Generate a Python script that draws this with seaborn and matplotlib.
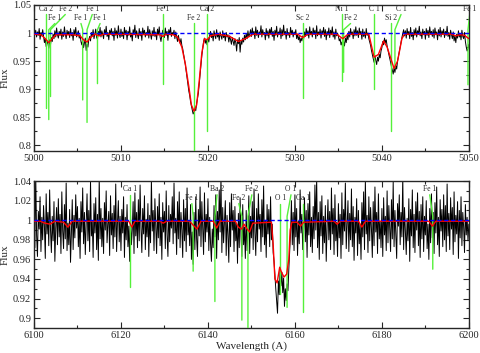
import numpy as np
import matplotlib
matplotlib.use("Agg")
import matplotlib.pyplot as plt
from matplotlib.ticker import MultipleLocator, FormatStrFormatter
import seaborn as sns

# observed spectrum, 5000-5050 A (0.1 A sampling)
top_range = (5000.0, 5050.0)
top_flux = [
    0.991, 0.998, 1.005, 0.993, 1.002, 0.996, 1.008, 0.989, 1.001, 0.995,
    1.006, 0.994, 0.983, 0.990, 0.976, 0.986, 0.981, 0.973, 0.988, 0.979,
    0.992, 0.985, 0.998, 0.990, 1.004, 0.993, 1.009, 0.997, 0.991, 1.003,
    0.996, 1.007, 0.989, 1.002, 0.994, 1.011, 0.998, 0.990, 1.005, 0.997,
    1.003, 0.992, 1.008, 0.995, 1.001, 0.987, 1.006, 0.996, 1.010, 0.993,
    0.999, 1.004, 0.991, 0.997, 0.985, 0.979, 0.988, 0.974, 0.983, 0.991,
    0.969, 0.980, 0.975, 0.988, 0.994, 0.986, 1.001, 0.995, 1.006, 0.990,
    0.998, 1.007, 0.992, 0.989, 1.003, 0.996, 1.010, 0.993, 1.004, 0.998,
    0.990, 1.006, 0.997, 1.012, 0.994, 1.001, 0.988, 1.005, 0.999, 1.008,
    0.995, 1.003, 0.987, 1.009, 0.996, 1.004, 0.991, 1.013, 0.998, 0.992,
    1.007, 0.994, 1.002, 0.990, 1.010, 0.997, 1.005, 0.988, 1.003, 0.996,
    1.011, 0.993, 1.000, 0.986, 1.006, 0.998, 1.014, 0.992, 1.004, 0.997,
    0.990, 1.008, 0.995, 1.003, 0.987, 1.009, 0.999, 1.005, 0.993, 1.001,
    0.996, 1.012, 0.991, 1.006, 0.998, 0.989, 1.004, 0.995, 1.010, 0.994,
    1.002, 0.988, 1.007, 0.997, 1.011, 0.993, 0.985, 0.996, 1.005, 0.999,
    0.992, 1.009, 0.996, 1.003, 0.987, 1.006, 0.998, 1.010, 0.994, 1.001,
    0.997, 1.005, 0.990, 1.002, 0.994, 0.985, 0.996, 0.988, 0.982, 0.990,
    0.978, 0.972, 0.963, 0.955, 0.944, 0.932, 0.921, 0.908, 0.897, 0.889,
    0.878, 0.870, 0.863, 0.856, 0.859, 0.866, 0.862, 0.875, 0.884, 0.893,
    0.910, 0.928, 0.944, 0.960, 0.972, 0.985, 0.991, 0.982, 0.988, 0.979,
    0.990, 0.984, 0.996, 1.003, 0.992, 0.999, 0.986, 1.004, 0.995, 0.990,
    1.006, 0.993, 0.999, 0.987, 1.002, 0.995, 0.989, 1.004, 0.992, 0.998,
    0.986, 1.001, 0.993, 0.997, 0.984, 0.995, 0.988, 0.980, 0.992, 0.985,
    0.978, 0.990, 0.983, 0.968, 0.988, 0.981, 0.992, 0.966, 0.986, 0.980,
    0.991, 0.984, 0.996, 0.988, 0.999, 0.990, 1.004, 0.993, 0.998, 1.006,
    0.994, 1.009, 0.997, 1.003, 0.990, 1.011, 0.996, 1.005, 0.992, 1.002,
    0.998, 1.013, 0.993, 1.006, 0.997, 1.001, 0.988, 1.008, 0.995, 1.004,
    0.991, 1.007, 0.999, 1.010, 0.994, 1.003, 0.987, 1.005, 0.996, 1.012,
    0.993, 1.002, 0.998, 1.009, 0.990, 1.006, 0.995, 1.014, 0.997, 1.003,
    0.989, 1.008, 0.996, 1.001, 0.992, 1.010, 0.998, 1.005, 0.993, 1.002,
    0.997, 1.006, 0.990, 0.998, 0.988, 0.994, 0.983, 0.991, 0.986, 0.995,
    0.989, 1.002, 0.994, 1.008, 0.996, 1.004, 0.991, 1.011, 0.997, 1.003,
    0.993, 1.009, 0.998, 1.005, 0.990, 1.013, 0.995, 1.002, 0.997, 1.007,
    0.991, 1.004, 0.999, 1.010, 0.994, 1.006, 0.988, 1.003, 0.996, 1.009,
    0.992, 1.005, 0.997, 1.011, 0.993, 1.002, 0.989, 1.007, 0.995, 1.000,
    0.994, 0.986, 0.990, 0.979, 0.984, 0.973, 0.985, 0.977, 0.991, 0.983,
    0.996, 0.988, 1.003, 0.993, 1.008, 0.997, 1.002, 0.990, 1.006, 0.995,
    1.011, 0.996, 1.004, 0.992, 1.009, 0.998, 1.003, 0.989, 1.007, 0.994,
    1.002, 0.991, 1.008, 0.996, 1.000, 0.990, 0.984, 0.978, 0.969, 0.962,
    0.955, 0.948, 0.960, 0.951, 0.944, 0.957, 0.950, 0.962, 0.956, 0.968,
    0.974, 0.985, 0.979, 0.991, 0.983, 0.988, 0.977, 0.969, 0.962, 0.955,
    0.948, 0.940, 0.934, 0.927, 0.938, 0.930, 0.942, 0.936, 0.950, 0.958,
    0.967, 0.975, 0.984, 0.992, 0.999, 1.006, 0.995, 1.004, 0.991, 1.008,
    0.997, 1.003, 0.990, 1.010, 0.994, 1.001, 0.988, 1.006, 0.996, 1.009,
    0.993, 1.004, 0.998, 1.012, 0.995, 1.002, 0.990, 1.007, 0.997, 1.003,
    0.989, 1.008, 0.996, 1.005, 0.992, 1.011, 0.998, 1.003, 0.994, 1.006,
    0.991, 1.009, 0.997, 1.002, 0.988, 1.006, 0.995, 1.010, 0.993, 1.004,
    0.998, 1.007, 0.992, 1.003, 0.996, 1.012, 0.994, 1.001, 0.989, 1.005,
    0.997, 0.990, 1.002, 0.986, 0.995, 0.983, 0.998, 0.991, 1.004, 0.993,
    0.999, 0.988, 1.005, 0.994, 0.990, 1.001, 0.985, 0.975, 0.968, 0.972,
    0.980,
]

# synthetic (model) spectrum knots, top panel
top_model_wave = [5000.0, 5000.8, 5001.3, 5001.7, 5002.1, 5002.5, 5004.5, 5005.3,
                  5005.7, 5006.1, 5006.5, 5007.0, 5007.5, 5008.0, 5014.5, 5014.8,
                  5015.2, 5016.0, 5016.5, 5017.0, 5017.4, 5017.8, 5018.1, 5018.4,
                  5018.7, 5019.0, 5019.3, 5019.6, 5019.9, 5020.3, 5021.2, 5022.5,
                  5023.5, 5024.3, 5025.2, 5030.3, 5030.9, 5031.5, 5034.8, 5035.5,
                  5036.1, 5038.5, 5039.1, 5039.6, 5040.2, 5040.6, 5041.4, 5041.8,
                  5042.3, 5042.6, 5048.0, 5048.5, 5049.0, 5049.5, 5050.0]
top_model_flux = [0.998, 0.997, 0.990, 0.983, 0.990, 0.997, 0.997, 0.995,
                  0.988, 0.984, 0.992, 0.998, 0.995, 0.998, 0.997, 0.994,
                  0.998, 0.997, 0.993, 0.975, 0.945, 0.905, 0.872, 0.861,
                  0.872, 0.915, 0.965, 0.990, 0.988, 0.995, 0.998, 0.994,
                  0.985, 0.990, 0.998, 0.998, 0.992, 0.998, 0.998, 0.990,
                  0.998, 0.998, 0.957, 0.962, 0.986, 0.975, 0.937, 0.950,
                  0.990, 0.998, 0.998, 0.995, 0.997, 0.996, 0.990]

# line identifications, top panel
top_line_wave = [5001.4, 5001.7, 5001.9, 5005.6, 5006.1, 5007.3, 5014.8, 5018.4,
                 5019.9, 5030.9, 5035.4, 5035.6, 5039.1, 5041.0, 5041.5, 5049.9]
top_line_depth = [0.867, 0.846, 0.887, 0.881, 0.841, 0.910, 0.910, 0.780,
                  0.825, 0.885, 0.915, 0.930, 0.901, 0.825, 0.938, 0.908]
top_line_label = ["Ca 2", "Fe 1", "Fe 2", "Fe 1", "Fe 1", "Fe 1", "Fe 1", "Fe 2",
                  "Ca 2", "Sc 2", "Ni 1", "Fe 2", "C 1", "Si 2", "C 1", "Fe 1"]

# observed spectrum, 6100-6200 A (0.2 A sampling)
bot_range = (6100.0, 6200.0)
bot_flux = [
    1.018, 0.972, 1.046, 0.985, 0.963, 1.009, 0.991, 1.024, 0.968, 1.003,
    0.980, 1.015, 0.994, 0.961, 1.027, 0.986, 1.008, 0.974, 1.031, 0.990,
    0.967, 1.004, 0.979, 1.019, 0.958, 0.992, 1.013, 0.975, 1.022, 0.983,
    1.006, 0.966, 1.029, 0.989, 0.971, 1.016, 0.981, 1.038, 0.969, 0.997,
    0.975, 1.011, 0.957, 0.986, 1.021, 0.970, 1.005, 0.982, 1.026, 0.992,
    1.014, 0.973, 1.002, 0.961, 1.019, 0.988, 1.033, 0.976, 1.008, 0.965,
    0.995, 1.027, 0.979, 1.010, 0.968, 1.040, 0.984, 0.999, 0.962, 1.017,
    0.987, 1.023, 0.970, 1.006, 0.959, 1.044, 0.981, 1.012, 0.973, 1.002,
    0.966, 1.018, 0.990, 1.030, 0.977, 0.996, 1.009, 0.964, 1.025, 0.985,
    1.007, 0.971, 1.015, 0.983, 1.037, 0.968, 0.998, 1.020, 0.978, 1.004,
    0.969, 1.011, 0.987, 1.024, 0.962, 1.003, 0.980, 1.016, 0.973, 0.994,
    0.958, 1.006, 0.975, 0.990, 1.019, 0.966, 1.028, 0.984, 1.008, 0.972,
    1.021, 0.979, 1.036, 0.992, 0.967, 1.012, 0.986, 1.025, 0.970, 1.001,
    0.983, 1.017, 0.963, 1.005, 0.977, 1.042, 0.989, 1.010, 0.969, 1.022,
    0.995, 0.966, 1.014, 0.982, 1.027, 0.974, 1.003, 0.960, 1.018, 0.988,
    1.009, 0.971, 1.030, 0.985, 0.963, 1.015, 0.978, 1.006, 0.992, 1.024,
    0.976, 1.038, 0.987, 1.002, 0.965, 1.019, 0.981, 1.029, 0.972, 1.008,
    0.990, 0.962, 1.021, 0.979, 1.012, 0.968, 1.033, 0.985, 0.999, 0.974,
    1.016, 0.960, 0.988, 0.955, 1.008, 0.970, 1.024, 0.981, 0.963, 1.011,
    0.984, 1.034, 0.973, 1.019, 0.992, 0.965, 1.028, 0.978, 1.006, 0.988,
    1.022, 0.969, 1.003, 0.976, 0.958, 0.991, 0.972, 1.015, 0.983, 1.026,
    0.961, 1.009, 0.980, 1.031, 0.988, 1.046, 0.967, 1.013, 0.977, 0.998,
    1.020, 0.964, 1.005, 0.985, 0.957, 1.018, 0.973, 1.027, 0.990, 1.010,
    0.968, 1.014, 0.979, 0.996, 0.956, 1.007, 0.972, 1.023, 0.984, 0.963,
    1.016, 0.975, 0.993, 0.961, 1.010, 0.969, 0.987, 1.025, 0.966, 1.004,
    0.982, 1.019, 0.970, 1.032, 0.988, 0.964, 1.012, 0.978, 1.027, 0.991,
    1.006, 0.968, 1.021, 0.983, 1.035, 0.975, 1.000, 0.962, 1.016, 0.986,
    1.011, 0.973, 1.024, 0.980, 0.996, 0.967, 0.958, 0.944, 0.930, 0.918,
    0.905, 0.938, 0.924, 0.952, 0.933, 0.947, 0.926, 0.941, 0.912, 0.930,
    0.918, 0.935, 0.928, 0.950, 0.968, 0.987, 1.020, 0.975, 1.008, 0.969,
    1.026, 0.983, 1.012, 0.964, 0.999, 0.976, 1.031, 0.987, 1.006, 0.970,
    0.991, 1.023, 0.978, 1.010, 0.962, 1.017, 0.985, 1.029, 0.973, 1.003,
    0.967, 1.014, 0.981, 1.036, 0.990, 1.043, 0.972, 1.008, 0.960, 1.019,
    0.984, 1.025, 0.966, 1.004, 0.977, 1.015, 0.958, 0.993, 1.021, 0.980,
    1.009, 0.970, 1.033, 0.986, 1.012, 0.965, 1.026, 0.979, 0.998, 0.963,
    1.017, 0.982, 1.006, 0.961, 1.028, 0.975, 1.011, 0.989, 1.038, 0.971,
    0.995, 1.020, 0.968, 1.007, 0.980, 1.032, 0.973, 1.014, 0.959, 1.003,
    0.987, 1.022, 0.964, 1.010, 0.976, 0.996, 0.960, 1.018, 0.983, 1.029,
    0.970, 1.041, 0.986, 1.005, 0.967, 1.024, 0.979, 1.013, 0.991, 0.962,
    1.019, 0.974, 1.034, 0.988, 1.008, 0.966, 1.027, 0.981, 0.999, 0.972,
    1.012, 0.963, 1.023, 0.985, 1.004, 0.969, 1.030, 0.977, 1.015, 0.990,
    0.968, 1.021, 0.981, 1.039, 0.973, 1.010, 0.986, 0.961, 1.017, 0.994,
    1.026, 0.975, 1.008, 0.983, 1.045, 0.970, 1.013, 0.988, 0.965, 1.002,
    0.979, 1.022, 0.958, 1.011, 0.984, 1.031, 0.972, 1.006, 0.967, 1.019,
    0.990, 1.028, 0.974, 1.009, 0.962, 1.016, 0.981, 1.024, 0.968, 1.004,
    0.985, 1.020, 0.971, 0.996, 0.960, 1.012, 0.977, 1.027, 0.982, 1.008,
    0.966, 1.018, 0.987, 1.034, 0.975, 1.003, 0.963, 1.021, 0.989, 1.011,
    0.973, 1.026, 0.980, 1.015, 0.968, 1.037, 0.984, 1.007, 0.970, 1.023,
    0.991, 1.013, 0.965, 1.029, 0.978, 1.005, 0.986, 1.019, 0.961, 1.010,
    0.982, 1.024, 0.974, 1.008, 0.993, 0.967, 1.016, 0.985, 1.003, 0.979,
    0.996,
]

bot_model_wave = [6100.0, 6101.5, 6102.5, 6103.7, 6104.8, 6106.8, 6107.8, 6108.8,
                  6121.8, 6122.5, 6123.2, 6129.0, 6129.7, 6130.5, 6135.8, 6136.6,
                  6137.5, 6138.4, 6141.2, 6142.0, 6142.8, 6146.3, 6147.0, 6147.7,
                  6148.3, 6149.0, 6149.6, 6150.3, 6154.6, 6155.0, 6155.4, 6155.9,
                  6156.5, 6156.9, 6157.5, 6158.1, 6158.6, 6158.9, 6159.3, 6160.5,
                  6161.3, 6162.0, 6169.0, 6169.7, 6170.4, 6174.6, 6175.4, 6176.2,
                  6190.8, 6191.6, 6192.4, 6200.0]
bot_model_flux = [0.999, 0.999, 0.997, 0.996, 0.999, 0.998, 0.993, 0.999,
                  0.999, 0.993, 0.999, 0.999, 0.997, 0.999, 0.999, 0.995,
                  0.991, 0.999, 0.999, 0.992, 0.999, 0.999, 0.993, 0.991,
                  0.996, 0.991, 0.988, 0.997, 0.998, 0.975, 0.940, 0.936,
                  0.952, 0.947, 0.942, 0.945, 0.960, 0.990, 0.998, 0.998,
                  0.994, 0.998, 0.999, 0.996, 0.999, 0.999, 0.993, 0.999,
                  0.999, 0.994, 0.999, 0.999]

bot_line_wave = [6122.1, 6136.6, 6141.6, 6147.8, 6149.2, 6156.6, 6158.2, 6161.8, 6191.7]
bot_line_depth = [0.932, 0.948, 0.917, 0.898, 0.880, 0.925, 0.911, 0.906, 0.950]
bot_line_label = ["Ca 1", "Fe 1", "Ba 2", "Fe 2", "Fe 2", "O 1", "O 1", "Ca 1", "Fe 1"]

# label placement (x of text, text row 0 = upper, 1 = lower)
top_label_x = [5001.4, 5002.4, 5003.6, 5005.4, 5006.7, 5007.6, 5014.8, 5018.3,
               5019.9, 5030.9, 5035.4, 5036.4, 5039.1, 5041.0, 5042.2, 5050.1]
top_label_row = [0, 1, 0, 1, 0, 1, 0, 1, 0, 1, 0, 1, 0, 1, 0, 0]
bot_label_x = [6122.1, 6136.3, 6142.1, 6147.1, 6150.1, 6156.6, 6159.1, 6161.8, 6191.0]
bot_label_row = [0, 1, 0, 1, 0, 1, 0, 1, 0]

sns.set_style("ticks")
plt.rcParams["font.family"] = ["Liberation Serif", "DejaVu Serif"]

GREEN = "#55f03a"

fig = plt.figure(figsize=(4.8, 3.53), dpi=100)
ax1 = fig.add_axes([0.0708, 0.572, 0.906, 0.414])
ax2 = fig.add_axes([0.0708, 0.071, 0.906, 0.416])


def draw_panel(ax, wrange, flux, mwave, mflux, lwave, ldepth, llabel,
               lx, lrow, ylim, text_y, knee):
    wave = np.linspace(wrange[0], wrange[1], len(flux))
    sns.lineplot(x=wave, y=flux, ax=ax, color="black", lw=0.7,
                 estimator=None, sort=False, zorder=2)
    # identified lines with leaders to their labels
    for w, d, lab, tx, r in zip(lwave, ldepth, llabel, lx, lrow):
        ty = text_y[r]
        if abs(tx - w) > 0.15:
            ax.plot([w, w, tx], [d, knee, ty - 0.002], color=GREEN, lw=1.0, zorder=3)
        else:
            ax.plot([w, w], [d, ty - 0.002], color=GREEN, lw=1.0, zorder=3)
        ax.text(tx, ty, lab, fontsize=5.5, ha="center", va="bottom", zorder=5)
    sns.lineplot(x=mwave, y=mflux, ax=ax, color="red", lw=1.0,
                 estimator=None, sort=False, zorder=4)
    ax.axhline(1.0, color="blue", lw=1.0, ls=(0, (3, 2)), zorder=4)
    ax.set_xlim(*wrange)
    ax.set_ylim(*ylim)
    ax.tick_params(which="both", direction="in", top=True, right=True,
                   labelsize=7.5, width=0.8, pad=2)
    ax.tick_params(which="major", length=4)
    ax.tick_params(which="minor", length=2)
    ax.yaxis.set_major_formatter(FormatStrFormatter("%g"))
    for s in ax.spines.values():
        s.set_linewidth(1.0)
    ax.set_ylabel("Flux", fontsize=8, labelpad=2)


draw_panel(ax1, top_range, top_flux, top_model_wave, top_model_flux,
           top_line_wave, top_line_depth, top_line_label, top_label_x, top_label_row,
           (0.79, 1.05), (1.035, 1.019), 1.006)
ax1.xaxis.set_major_locator(MultipleLocator(10))
ax1.xaxis.set_minor_locator(MultipleLocator(5))
ax1.yaxis.set_major_locator(MultipleLocator(0.05))
ax1.yaxis.set_minor_locator(MultipleLocator(0.025))

draw_panel(ax2, bot_range, bot_flux, bot_model_wave, bot_model_flux,
           bot_line_wave, bot_line_depth, bot_line_label, bot_label_x, bot_label_row,
           (0.89, 1.04), (1.028, 1.019), 1.004)
ax2.xaxis.set_major_locator(MultipleLocator(20))
ax2.xaxis.set_minor_locator(MultipleLocator(10))
ax2.yaxis.set_major_locator(MultipleLocator(0.02))
ax2.yaxis.set_minor_locator(MultipleLocator(0.01))
ax2.set_xlabel("Wavelength (A)", fontsize=8, labelpad=1)

fig.savefig("out.png", dpi=100)
